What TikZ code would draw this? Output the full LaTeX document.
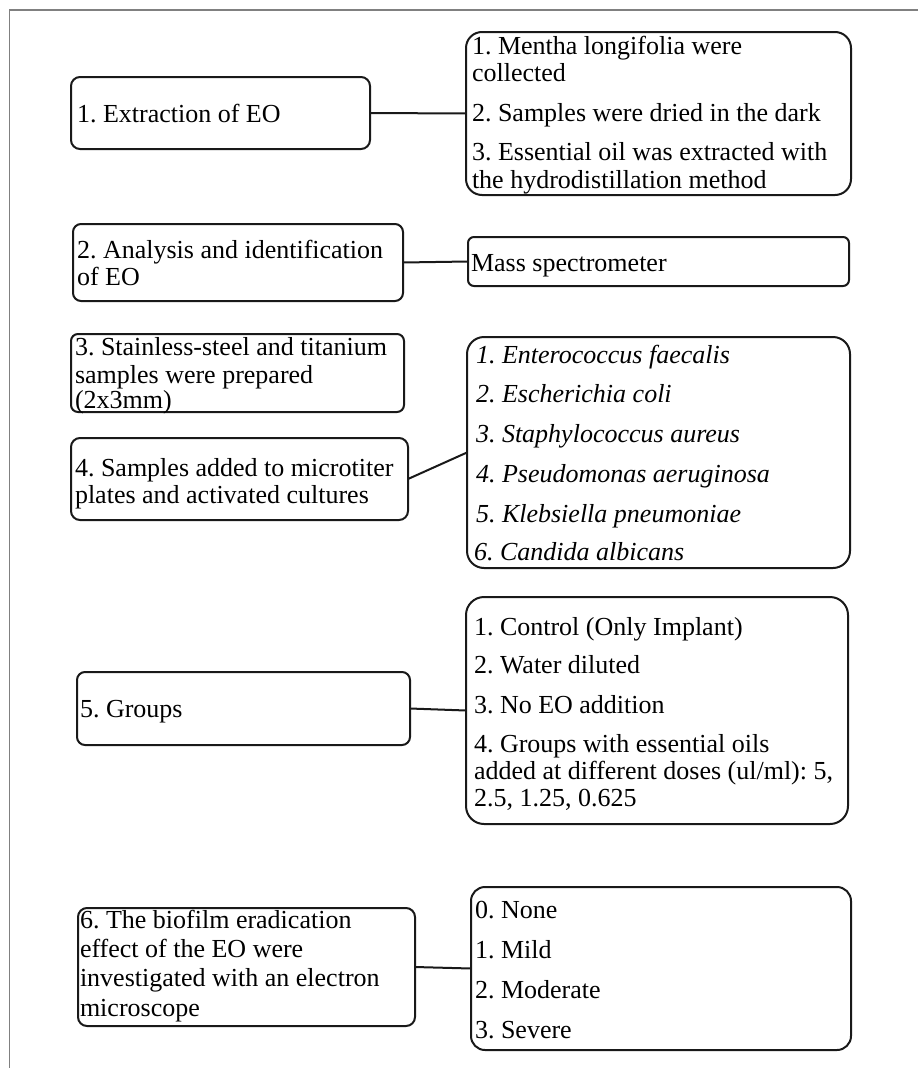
\documentclass[tikz,border=0pt]{standalone}
\usepackage{fontspec}
\setmainfont{Liberation Serif}
\frenchspacing
\begin{document}
\begin{tikzpicture}[x=1pt,y=-1pt,
  box/.style={draw=black!90, line width=2pt, rounded corners=#1, inner sep=0pt, outer sep=0pt},
  box/.default=9pt,
  txt/.style={anchor=base west, inner sep=0pt, outer sep=0pt, font=\fontsize{26}{27}\selectfont\frenchspacing},
  itx/.style={txt, font=\fontsize{26}{27}\selectfont\frenchspacing\itshape},
  link/.style={draw=black!90, line width=2pt},
  frameline/.style={draw=black!50, line width=1.5pt}]
\useasboundingbox (0,0) rectangle (918,1068);
% frame
\coordinate (fb) at (9.5,1068);
\coordinate (fc) at (9.5,10);
\coordinate (fr) at (918,10);
\draw[frameline] (fb) -- (fc) -- (fr);

% boxes
\node[box=9pt,  minimum width=299pt, minimum height=72pt]  (b1) at (220.5,113) {};
\node[box=16pt, minimum width=385pt, minimum height=163pt] (r1) at (658.5,113.5) {};
\node[box=8pt,  minimum width=330pt, minimum height=77pt]  (b2) at (238,262.5) {};
\node[box=6pt,  minimum width=381pt, minimum height=49pt]  (r2) at (658.5,261.5) {};
\node[box=7pt,  minimum width=333pt, minimum height=78pt]  (b3) at (237.5,373) {};
\node[box=9pt,  minimum width=337pt, minimum height=82pt]  (b4) at (239.5,479) {};
\node[box=17pt, minimum width=383pt, minimum height=231pt] (r4) at (658.5,452.5) {};
\node[box=8pt,  minimum width=333pt, minimum height=73pt]  (b5) at (243.5,708.5) {};
\node[box=18pt, minimum width=382pt, minimum height=227pt] (r5) at (657,710.5) {};
\node[box=9pt,  minimum width=337pt, minimum height=118pt] (b6) at (246.5,967) {};
\node[box=14pt, minimum width=380pt, minimum height=163pt] (r6) at (661,968.5) {};

% connectors
\draw[link] (b1.east) -- (r1.west);
\draw[link] (b2.east) -- (r2.west);
\draw[link] (b4.east) -- (r4.west);
\draw[link] (b5.east) -- (r5.west);
\draw[link] (b6.east) -- (r6.west);

% texts
\node[txt] (t1) at (77,122) {1. Extraction of EO};

\node[txt] (r1a) at (472,54)  {1. Mentha longifolia were};
\node[txt] (r1b) at (472,81)  {collected};
\node[txt] (r1c) at (472,121) {2. Samples were dried in the dark};
\node[txt] (r1d) at (472,160) {3. Essential oil was extracted with};
\node[txt] (r1e) at (472,188) {the hydrodistillation method};

\node[txt] (t2a) at (77,258) {2. Analysis and identification};
\node[txt] (t2b) at (77,285) {of EO};
\node[txt] (r2a) at (471,271) {Mass spectrometer};

\node[txt] (t3a) at (75,355) {3. Stainless-steel and titanium};
\node[txt] (t3b) at (75,383) {samples were prepared};
\node[txt] (t3c) at (75,408) {(2x3mm)};

\node[txt] (t4a) at (75,476) {4. Samples added to microtiter};
\node[txt] (t4b) at (75,503) {plates and activated cultures};

\node[itx] (r4a) at (476,363) {1. Enterococcus faecalis};
\node[itx] (r4b) at (476,402) {2. Escherichia coli};
\node[itx] (r4c) at (476,442) {3. Staphylococcus aureus};
\node[itx] (r4d) at (476,482) {4. Pseudomonas aeruginosa};
\node[itx] (r4e) at (476,522) {5. Klebsiella pneumoniae};
\node[itx] (r4f) at (474,560) {6. Candida albicans};

\node[txt] (t5) at (80,717) {5. Groups};

\node[txt] (r5a) at (474,635) {1. Control (Only Implant)};
\node[txt] (r5b) at (474,673) {2. Water diluted};
\node[txt] (r5c) at (474,713) {3. No EO addition};
\node[txt] (r5d) at (474,752) {4. Groups with essential oils};
\node[txt] (r5e) at (474,779) {added at different doses (ul/ml): 5,};
\node[txt] (r5f) at (474,806) {2.5, 1.25, 0.625};

\node[txt] (t6a) at (80,928)  {6. The biofilm eradication};
\node[txt] (t6b) at (80,957)  {effect of the EO were};
\node[txt] (t6c) at (80,986)  {investigated with an electron};
\node[txt] (t6d) at (80,1016) {microscope};

\node[txt] (r6a) at (475,918)  {0. None};
\node[txt] (r6b) at (475,958)  {1. Mild};
\node[txt] (r6c) at (475,998)  {2. Moderate};
\node[txt] (r6d) at (475,1038) {3. Severe};
\end{tikzpicture}
\end{document}
